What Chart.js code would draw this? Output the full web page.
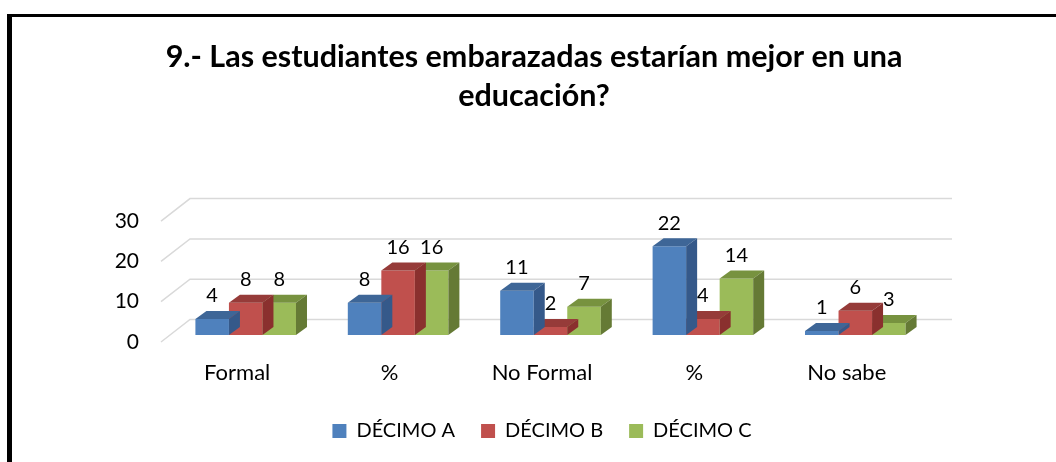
<!DOCTYPE html>
<html>
<head>
<meta charset="utf-8">
<script src="https://cdn.jsdelivr.net/npm/chart.js@4"></script>
<style>
  html, body { margin: 0; padding: 0; background: #fff; overflow: hidden; }
  #marco {
    position: absolute; left: 7px; top: 14px; width: 1100px; height: 500px;
    border-left: 5px solid #000; border-top: 3px solid #000;
  }
  #grafico { position: absolute; left: 0; top: 0; }
</style>
</head>
<body>
<div id="marco"></div>
<canvas id="grafico" width="1056" height="462"></canvas>
<script>
// Datos
const categorias = ["Formal", "%", "No Formal", "%", "No sabe"];
const decimoA = [4, 8, 11, 22, 1];
const decimoB = [8, 16, 2, 4, 6];
const decimoC = [8, 16, 7, 14, 3];
const ticksY = [0, 10, 20, 30];

// Colores estilo Excel (frente, tapa, lado)
const colores = [
  { frente: "#4F81BD", tapa: "#3E6697", lado: "#35598A" },
  { frente: "#C0504D", tapa: "#963B39", lado: "#8A302E" },
  { frente: "#9BBB59", tapa: "#77923F", lado: "#657A35" }
];

// Desplazamientos para el efecto 3D
const MURO_X = 29, MURO_Y = -22.5;   // pared del fondo
const BARRA_X = 8.5, BARRA_Y = -7;   // posición de las barras
const PROF_X = 11, PROF_Y = -8;      // profundidad de cada barra

const efecto3D = {
  id: "efecto3D",
  beforeDatasetsDraw(chart) {
    const ctx = chart.ctx;
    const area = chart.chartArea;
    const y = chart.scales.y;
    // Cuadrícula en la pared del fondo y diagonales del costado
    ctx.save();
    ctx.strokeStyle = "#d9d9d9";
    ctx.lineWidth = 1.5;
    ticksY.forEach(function (t) {
      const py = y.getPixelForValue(t);
      ctx.beginPath();
      ctx.moveTo(area.left, py);
      ctx.lineTo(area.left + MURO_X, py + MURO_Y);
      ctx.lineTo(area.right + MURO_X, py + MURO_Y);
      ctx.stroke();
    });
    ctx.restore();
    // Las barras se dibujan desplazadas hacia el fondo
    ctx.save();
    ctx.translate(BARRA_X, BARRA_Y);
  },
  afterDatasetDraw(chart, args) {
    const ctx = chart.ctx;
    const c = colores[args.index];
    args.meta.data.forEach(function (bar) {
      const p = bar.getProps(["x", "y", "base", "width"], true);
      const izq = p.x - p.width / 2, der = p.x + p.width / 2;
      // tapa
      ctx.fillStyle = c.tapa;
      ctx.beginPath();
      ctx.moveTo(izq, p.y);
      ctx.lineTo(der, p.y);
      ctx.lineTo(der + PROF_X, p.y + PROF_Y);
      ctx.lineTo(izq + PROF_X, p.y + PROF_Y);
      ctx.closePath();
      ctx.fill();
      // lado
      ctx.fillStyle = c.lado;
      ctx.beginPath();
      ctx.moveTo(der, p.y);
      ctx.lineTo(der + PROF_X, p.y + PROF_Y);
      ctx.lineTo(der + PROF_X, p.base + PROF_Y);
      ctx.lineTo(der, p.base);
      ctx.closePath();
      ctx.fill();
    });
  },
  afterDatasetsDraw(chart) {
    const ctx = chart.ctx;
    // Etiquetas de datos
    ctx.font = "20px Lato";
    ctx.fillStyle = "#000";
    ctx.textAlign = "center";
    ctx.textBaseline = "middle";
    chart.data.datasets.forEach(function (ds, i) {
      chart.getDatasetMeta(i).data.forEach(function (bar, j) {
        const p = bar.getProps(["x", "y"], true);
        ctx.fillText(String(ds.data[j]), p.x, p.y + PROF_Y - 15);
      });
    });
    ctx.restore();
  }
};

new Chart(document.getElementById("grafico"), {
  type: "bar",
  data: {
    labels: categorias,
    datasets: [
      { label: "DÉCIMO A", data: decimoA, backgroundColor: colores[0].frente },
      { label: "DÉCIMO B", data: decimoB, backgroundColor: colores[1].frente },
      { label: "DÉCIMO C", data: decimoC, backgroundColor: colores[2].frente }
    ]
  },
  options: {
    responsive: false,
    animation: false,
    devicePixelRatio: 1,
    categoryPercentage: 0.66,
    barPercentage: 1,
    layout: { padding: { left: 12, right: 0, top: 0, bottom: 11 } },
    plugins: {
      title: {
        display: true,
        text: ["9.- Las estudiantes embarazadas estarían mejor en una", "educación?"],
        color: "#000",
        font: { family: "Lato", size: 30.5, weight: "bold", lineHeight: 1.28 },
        padding: { top: 38, bottom: 105 }
      },
      legend: {
        position: "bottom",
        fullSize: false,
        labels: {
          color: "#000",
          font: { family: "Lato", size: 20 },
          boxWidth: 14,
          boxHeight: 14,
          padding: 26
        }
      },
      tooltip: { enabled: false }
    },
    scales: {
      x: {
        grid: { display: false, drawTicks: false },
        border: { display: false },
        ticks: { color: "#000", font: { family: "Lato", size: 22 }, padding: 18 },
        afterFit(s) { s.height = 53; }
      },
      y: {
        min: 0,
        max: 30,
        grid: { display: false, drawTicks: false },
        border: { display: false },
        ticks: { stepSize: 10, color: "#000", font: { family: "Lato", size: 21 }, padding: 22 },
        afterFit(s) { s.width = 149; }
      },
      derecha: {
        position: "right",
        display: true,
        grid: { display: false, drawTicks: false },
        border: { display: false },
        ticks: { display: false },
        afterFit(s) { s.width = 133; }
      }
    }
  },
  plugins: [efecto3D]
});
</script>
</body>
</html>
